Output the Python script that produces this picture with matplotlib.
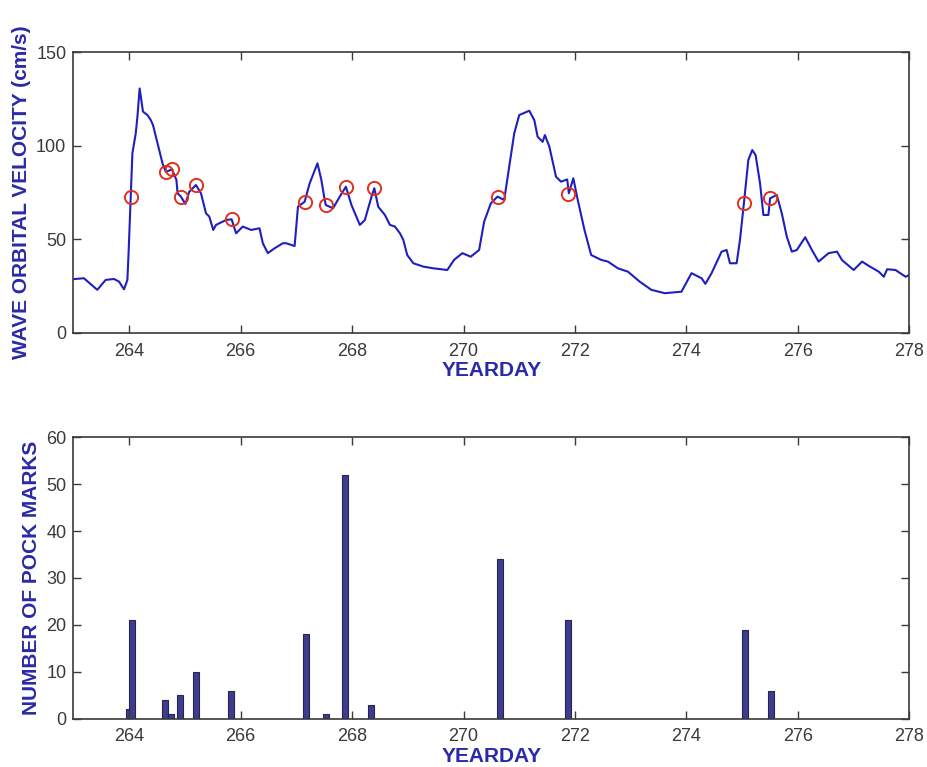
import matplotlib.pyplot as plt
import numpy as np

plt.rcParams['font.family'] = ['Liberation Sans', 'DejaVu Sans']

# wave orbital velocity record (yearday, cm/s)
day = [263.00, 263.19, 263.43, 263.58, 263.73, 263.82, 263.91, 263.97, 263.99, 264.03,
       264.06, 264.12, 264.15, 264.19, 264.22, 264.25, 264.33, 264.39, 264.43, 264.51,
       264.60, 264.66, 264.77, 264.85, 264.87, 264.93, 265.01, 265.08, 265.20, 265.29,
       265.38, 265.44, 265.51, 265.56, 265.74, 265.84, 265.92, 266.04, 266.19, 266.34,
       266.40, 266.49, 266.61, 266.76, 266.82, 266.97, 267.03, 267.15, 267.24, 267.38,
       267.45, 267.51, 267.53, 267.66, 267.78, 267.89, 267.99, 268.14, 268.23, 268.35,
       268.40, 268.47, 268.59, 268.68, 268.77, 268.86, 268.92, 268.99, 269.10, 269.28,
       269.46, 269.71, 269.83, 269.98, 270.13, 270.28, 270.37, 270.49, 270.61, 270.73,
       270.82, 270.91, 271.00, 271.18, 271.27, 271.33, 271.42, 271.46, 271.54, 271.66,
       271.75, 271.86, 271.89, 271.97, 272.05, 272.17, 272.29, 272.47, 272.59, 272.77,
       272.95, 273.16, 273.37, 273.61, 273.91, 274.09, 274.27, 274.34, 274.45, 274.63,
       274.72, 274.78, 274.90, 274.96, 275.03, 275.11, 275.18, 275.24, 275.32, 275.38,
       275.47, 275.50, 275.62, 275.71, 275.80, 275.89, 275.98, 276.13, 276.25, 276.37,
       276.55, 276.70, 276.79, 277.00, 277.15, 277.27, 277.45, 277.54, 277.60, 277.75,
       277.93, 278.00]
velocity = [28.7, 29.2, 23.0, 28.3, 28.8, 27.4, 23.3, 28.3, 41.6, 72.8,
            96.0, 106.6, 115.5, 130.6, 124.4, 118.2, 116.4, 113.7, 111.0, 101.3,
            90.6, 86.0, 87.4, 81.7, 74.6, 72.8, 68.9, 75.4, 79.0, 74.6,
            63.9, 62.1, 55.0, 57.7, 60.3, 60.7, 53.2, 56.8, 55.0, 55.9,
            47.9, 42.6, 45.2, 47.9, 47.9, 46.4, 67.4, 70.1, 79.9, 90.6,
            81.7, 71.0, 68.3, 66.6, 72.8, 78.1, 68.3, 57.7, 60.3, 72.8,
            77.3, 67.4, 63.0, 57.7, 56.8, 53.2, 49.7, 41.6, 37.2, 35.4,
            34.5, 33.6, 39.0, 42.6, 40.7, 44.3, 59.4, 69.2, 72.8, 71.0,
            88.8, 106.6, 116.4, 118.7, 113.7, 104.8, 102.1, 105.7, 99.5, 83.4,
            80.8, 82.0, 74.6, 82.6, 71.0, 55.0, 41.6, 39.0, 38.1, 34.5,
            32.7, 27.4, 23.0, 21.2, 22.0, 31.9, 29.2, 26.2, 31.9, 43.4,
            44.3, 37.2, 37.2, 49.7, 69.2, 92.4, 97.7, 95.0, 79.9, 63.0,
            63.0, 71.9, 73.7, 63.9, 51.4, 43.4, 44.3, 51.1, 44.3, 38.1,
            42.6, 43.4, 38.9, 33.6, 38.1, 35.8, 32.7, 30.0, 34.0, 33.6,
            30.0, 30.9]

# pock mark observation times and the velocity at each
obs_day = [264.03, 264.66, 264.77, 264.93, 265.20, 265.84, 267.15, 267.53, 267.89,
           268.40, 270.61, 271.87, 275.03, 275.50]
obs_vel = [72.8, 86.0, 87.4, 72.8, 79.0, 60.7, 70.1, 68.3, 78.1,
           77.3, 72.8, 74.2, 69.2, 71.9]

# number of pock marks counted
pock_day = [264.00, 264.05, 264.65, 264.75, 264.92, 265.20, 265.83, 267.17, 267.53,
            267.87, 268.34, 270.65, 271.88, 275.05, 275.51]
pock_count = [2, 21, 4, 1, 5, 10, 6, 18, 1, 52, 3, 34, 21, 19, 6]

label_col = '#2a2aa8'
tick_col = '#3a3a3a'
frame_col = '#3a3a3a'

fig = plt.figure(figsize=(9.28, 7.67), dpi=100)
ax1 = fig.add_axes([0.079, 0.566, 0.901, 0.366])
ax2 = fig.add_axes([0.079, 0.063, 0.901, 0.367])

ax1.plot(day, velocity, color='#1f1fc0', lw=1.5)
ax1.plot(obs_day, obs_vel, 'o', mfc='none', mec='#e0301e', mew=1.4, ms=9.5)
ax1.set_ylim(0, 150)
ax1.set_yticks([0, 50, 100, 150])
ax1.set_ylabel('WAVE ORBITAL VELOCITY (cm/s)', color=label_col, fontsize=15,
               fontweight='bold', labelpad=4)

ax2.bar(pock_day, pock_count, width=0.11, color='#3e3c8e', edgecolor='#262450', lw=0.8)
ax2.set_ylim(0, 60)
ax2.set_yticks(range(0, 61, 10))
ax2.set_ylabel('NUMBER OF POCK MARKS', color=label_col, fontsize=15,
               fontweight='bold', labelpad=4)

for ax in (ax1, ax2):
    ax.set_xlim(263, 278)
    ax.set_xticks(range(264, 279, 2))
    ax.set_xlabel('YEARDAY', color=label_col, fontsize=15, fontweight='bold', labelpad=1)
    ax.tick_params(direction='in', top=True, right=True, length=6, width=1,
                   colors=frame_col, labelcolor=tick_col, labelsize=13)
    ax.tick_params(axis='x', pad=7)
    ax.tick_params(axis='y', pad=5)
    for s in ax.spines.values():
        s.set_color(frame_col)
        s.set_linewidth(1.2)

fig.savefig('out.png', dpi=100)
